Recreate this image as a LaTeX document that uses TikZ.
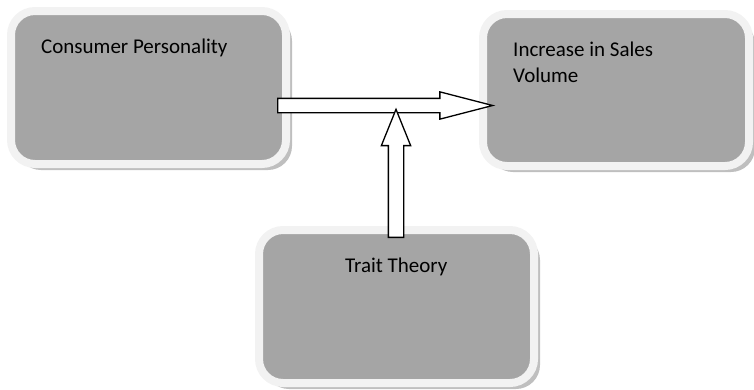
\documentclass[tikz,border=0pt]{standalone}
\usepackage{fontspec}
\setmainfont{Carlito}
\usepackage{tikz}
\usetikzlibrary{shapes.arrows}
\usetikzlibrary{shadows}
\definecolor{boxgray}{RGB}{165,165,165}
\definecolor{boxrim}{RGB}{242,242,242}

\begin{document}
\begin{tikzpicture}[x=1pt, y=-1pt,
    box/.style={rounded corners=24pt, fill=boxgray, draw=boxrim, line width=8pt, inner sep=0pt,
        drop shadow={shadow xshift=6pt, shadow yshift=-6pt, opacity=.25, fill=black}},
    lbl/.style={inner sep=0pt, align=left, font=\fontsize{21}{26}\selectfont},
    blockarrow/.style={single arrow, draw=black, fill=white, line width=1.3pt,
        single arrow head indent=0pt}]
    \useasboundingbox (0,0) rectangle (754,389);
    \node[box, minimum width=275pt, minimum height=153pt] (cp) at (148.5,87.5) {};
    \node[box, minimum width=266pt, minimum height=152pt] (isv) at (616,90) {};
    \node[box, minimum width=275pt, minimum height=153pt] (tt) at (396.5,306.5) {};
    \node[lbl, anchor=base west] (cptxt) at (41,53) {Consumer Personality};
    \node[lbl, anchor=base west] (isvtxt) at (513,82) {Increase in Sales\\Volume};
    \node[lbl, anchor=base west] (tttxt) at (345,272) {Trait Theory};
    \node[blockarrow, inner xsep=0pt, inner ysep=6.5pt, minimum height=215pt, single arrow head extend=6.5pt,
        single arrow tip angle=29, anchor=tail] (flow) at (277,105.5) {};
    \node[blockarrow, inner ysep=0pt, inner xsep=7pt, minimum height=128pt, single arrow head extend=7pt,
        single arrow tip angle=44, shape border rotate=90, anchor=tail] (push) at (396,238) {};
\end{tikzpicture}
\end{document}
